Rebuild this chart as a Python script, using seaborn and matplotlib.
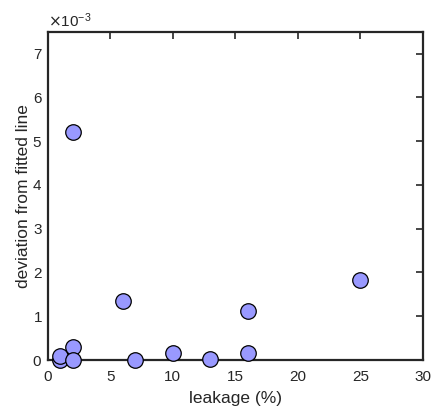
import matplotlib
matplotlib.use('Agg')
import matplotlib.pyplot as plt
import matplotlib.ticker as mticker
import seaborn as sns
import pandas as pd

# Data
leakage = [1, 1, 2, 2, 2, 6, 7, 10, 13, 16, 16, 25]
deviation = [0.00001, 0.00009, 0.0052, 0.0003, 0.00001, 0.00135, 0.00001,
             0.00015, 0.00002, 0.00112, 0.00015, 0.00183]

df = pd.DataFrame({'leakage': leakage, 'deviation': deviation})

sns.set_style('white')
plt.rcParams['font.family'] = ['Liberation Sans', 'DejaVu Sans']

fig = plt.figure(figsize=(4.35, 4.11), dpi=100)
ax = fig.add_axes([0.11, 0.124, 0.862, 0.799])

sns.scatterplot(data=df, x='leakage', y='deviation', ax=ax, s=125,
                color='#9999ff', edgecolor='black', linewidth=0.9,
                clip_on=False, zorder=5)

ax.set_xlim(0, 30)
ax.set_ylim(0, 0.0075)
ax.set_xticks([0, 5, 10, 15, 20, 25, 30])
ax.set_yticks([0, 0.001, 0.002, 0.003, 0.004, 0.005, 0.006, 0.007])

fmt = mticker.ScalarFormatter(useMathText=True)
fmt.set_powerlimits((-3, -3))
ax.yaxis.set_major_formatter(fmt)
ax.yaxis.get_offset_text().set_fontsize(11)
ax.yaxis.get_offset_text().set_color('#262626')

ax.set_xlabel('leakage (%)', fontsize=12.5, color='#262626', labelpad=5)
ax.set_ylabel('deviation from fitted line', fontsize=12.5, color='#262626', labelpad=1)

ax.tick_params(direction='in', length=5, width=1.2, top=True, right=True,
               labelsize=11, colors='#262626')
ax.tick_params(axis='x', pad=7)
ax.tick_params(axis='y', pad=4)
for sp in ax.spines.values():
    sp.set_linewidth(1.6)
    sp.set_color('#262626')

fig.savefig('out.png', dpi=100)
